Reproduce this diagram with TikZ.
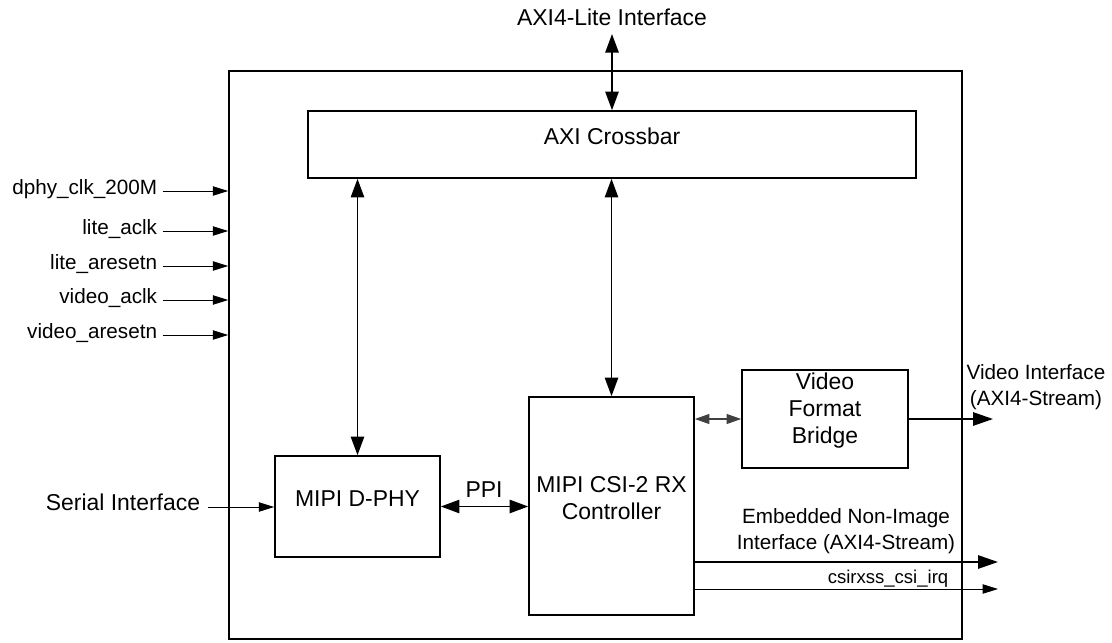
\documentclass[tikz,border=0pt]{standalone}
\usepackage{fontspec}
\setmainfont{Liberation Sans}
\usepackage{tikz}
\usetikzlibrary{arrows.meta,fit}

\tikzset{
  bigtxt/.style={font=\fontsize{17.2}{20.5}\selectfont},
  midtxt/.style={font=\fontsize{15.5}{19.5}\selectfont},
  smltxt/.style={font=\fontsize{13.9}{17}\selectfont},
  blk/.style={draw,line width=1.2pt,inner sep=0pt,align=center,bigtxt},
  busarr/.style={line width=1.4pt,{Triangle[length=14pt,width=10pt]}-{Triangle[length=14pt,width=10pt]}},
  outarr/.style={line width=1.4pt,-{Triangle[length=15pt,width=10pt]}},
  sigarr/.style={line width=0.75pt,-{Triangle[length=11.5pt,width=7pt]}},
  smbi/.style={line width=0.9pt,black!75,{Triangle[length=11pt,width=7.5pt]}-{Triangle[length=11pt,width=7.5pt]}}
}

\begin{document}
\begin{tikzpicture}[x=0.75pt,y=-0.75pt]
\useasboundingbox (0,0) rectangle (1112,642);

% subsystem boundary and blocks
\node[draw,line width=1.2pt,inner sep=0pt,fit={(229,71) (962,639)}] (sys) {};
\node[blk,fit={(308,111) (916,178)}] (xbar) {AXI Crossbar};
\node[blk,fit={(275,456) (440,557)}] (dphy) {MIPI D-PHY};
\node[blk,fit={(529,397) (694,615)}] (csi) {MIPI CSI-2 RX\\Controller};
\node[blk,fit={(742,370) (908,468)}] (vfb) {Video\\Format\\Bridge};

% AXI4-Lite
\node[bigtxt,anchor=base,inner sep=0pt] (axil) at (612,26) {AXI4-Lite Interface};
\draw[busarr] ([yshift=-6pt]axil.base) -- (xbar.north);
\draw[busarr] (xbar.south -| dphy.north) -- (dphy.north);
\draw[busarr] (xbar.south -| csi.north) -- (csi.north);

% clocks and resets
\node[midtxt,anchor=mid east,inner sep=2pt] (dclk) at (160,191) {dphy\_clk\_200M};
\node[midtxt,anchor=mid east,inner sep=2pt] (lclk) at (160,231) {lite\_aclk};
\node[midtxt,anchor=mid east,inner sep=2pt] (lrst) at (160,266) {lite\_aresetn};
\node[midtxt,anchor=mid east,inner sep=2pt] (vclk) at (160,300) {video\_aclk};
\node[midtxt,anchor=mid east,inner sep=2pt] (vrst) at (160,335) {video\_aresetn};
\draw[sigarr] ([xshift=2pt]dclk.mid east) -- (dclk.mid east -| sys.west);
\draw[sigarr] ([xshift=2pt]lclk.mid east) -- (lclk.mid east -| sys.west);
\draw[sigarr] ([xshift=2pt]lrst.mid east) -- (lrst.mid east -| sys.west);
\draw[sigarr] ([xshift=2pt]vclk.mid east) -- (vclk.mid east -| sys.west);
\draw[sigarr] ([xshift=2pt]vrst.mid east) -- (vrst.mid east -| sys.west);

% serial side
\node[bigtxt,anchor=mid east,inner sep=2pt] (serial) at (203,507) {Serial Interface};
\draw[sigarr] ([xshift=4pt]serial.mid east) -- (serial.mid east -| dphy.west);
\node[bigtxt,anchor=base,inner sep=0pt] (ppi) at (484,497) {PPI};
\draw[busarr] (dphy.east) -- (dphy.east -| csi.west);

% video out
\draw[smbi] (csi.east |- vfb.west) -- (vfb.west);
\coordinate (vout) at (993,419);
\draw[outarr] (vfb.east) -- (vout);
\node[midtxt,align=center,inner sep=0pt] (vidif) at (1036,387) {Video Interface\\(AXI4-Stream)};

% non-image and interrupt
\node[midtxt,align=center,inner sep=0pt] (embif) at (846,531) {Embedded Non-Image\\Interface (AXI4-Stream)};
\coordinate (emb) at (998,562);
\draw[outarr] (csi.east |- emb) -- (emb);
\node[smltxt,anchor=base,inner sep=0pt] (irq) at (888,583) {csirxss\_csi\_irq};
\coordinate (irqend) at (998,589);
\draw[sigarr] (csi.east |- irqend) -- (irqend);
\end{tikzpicture}
\end{document}
